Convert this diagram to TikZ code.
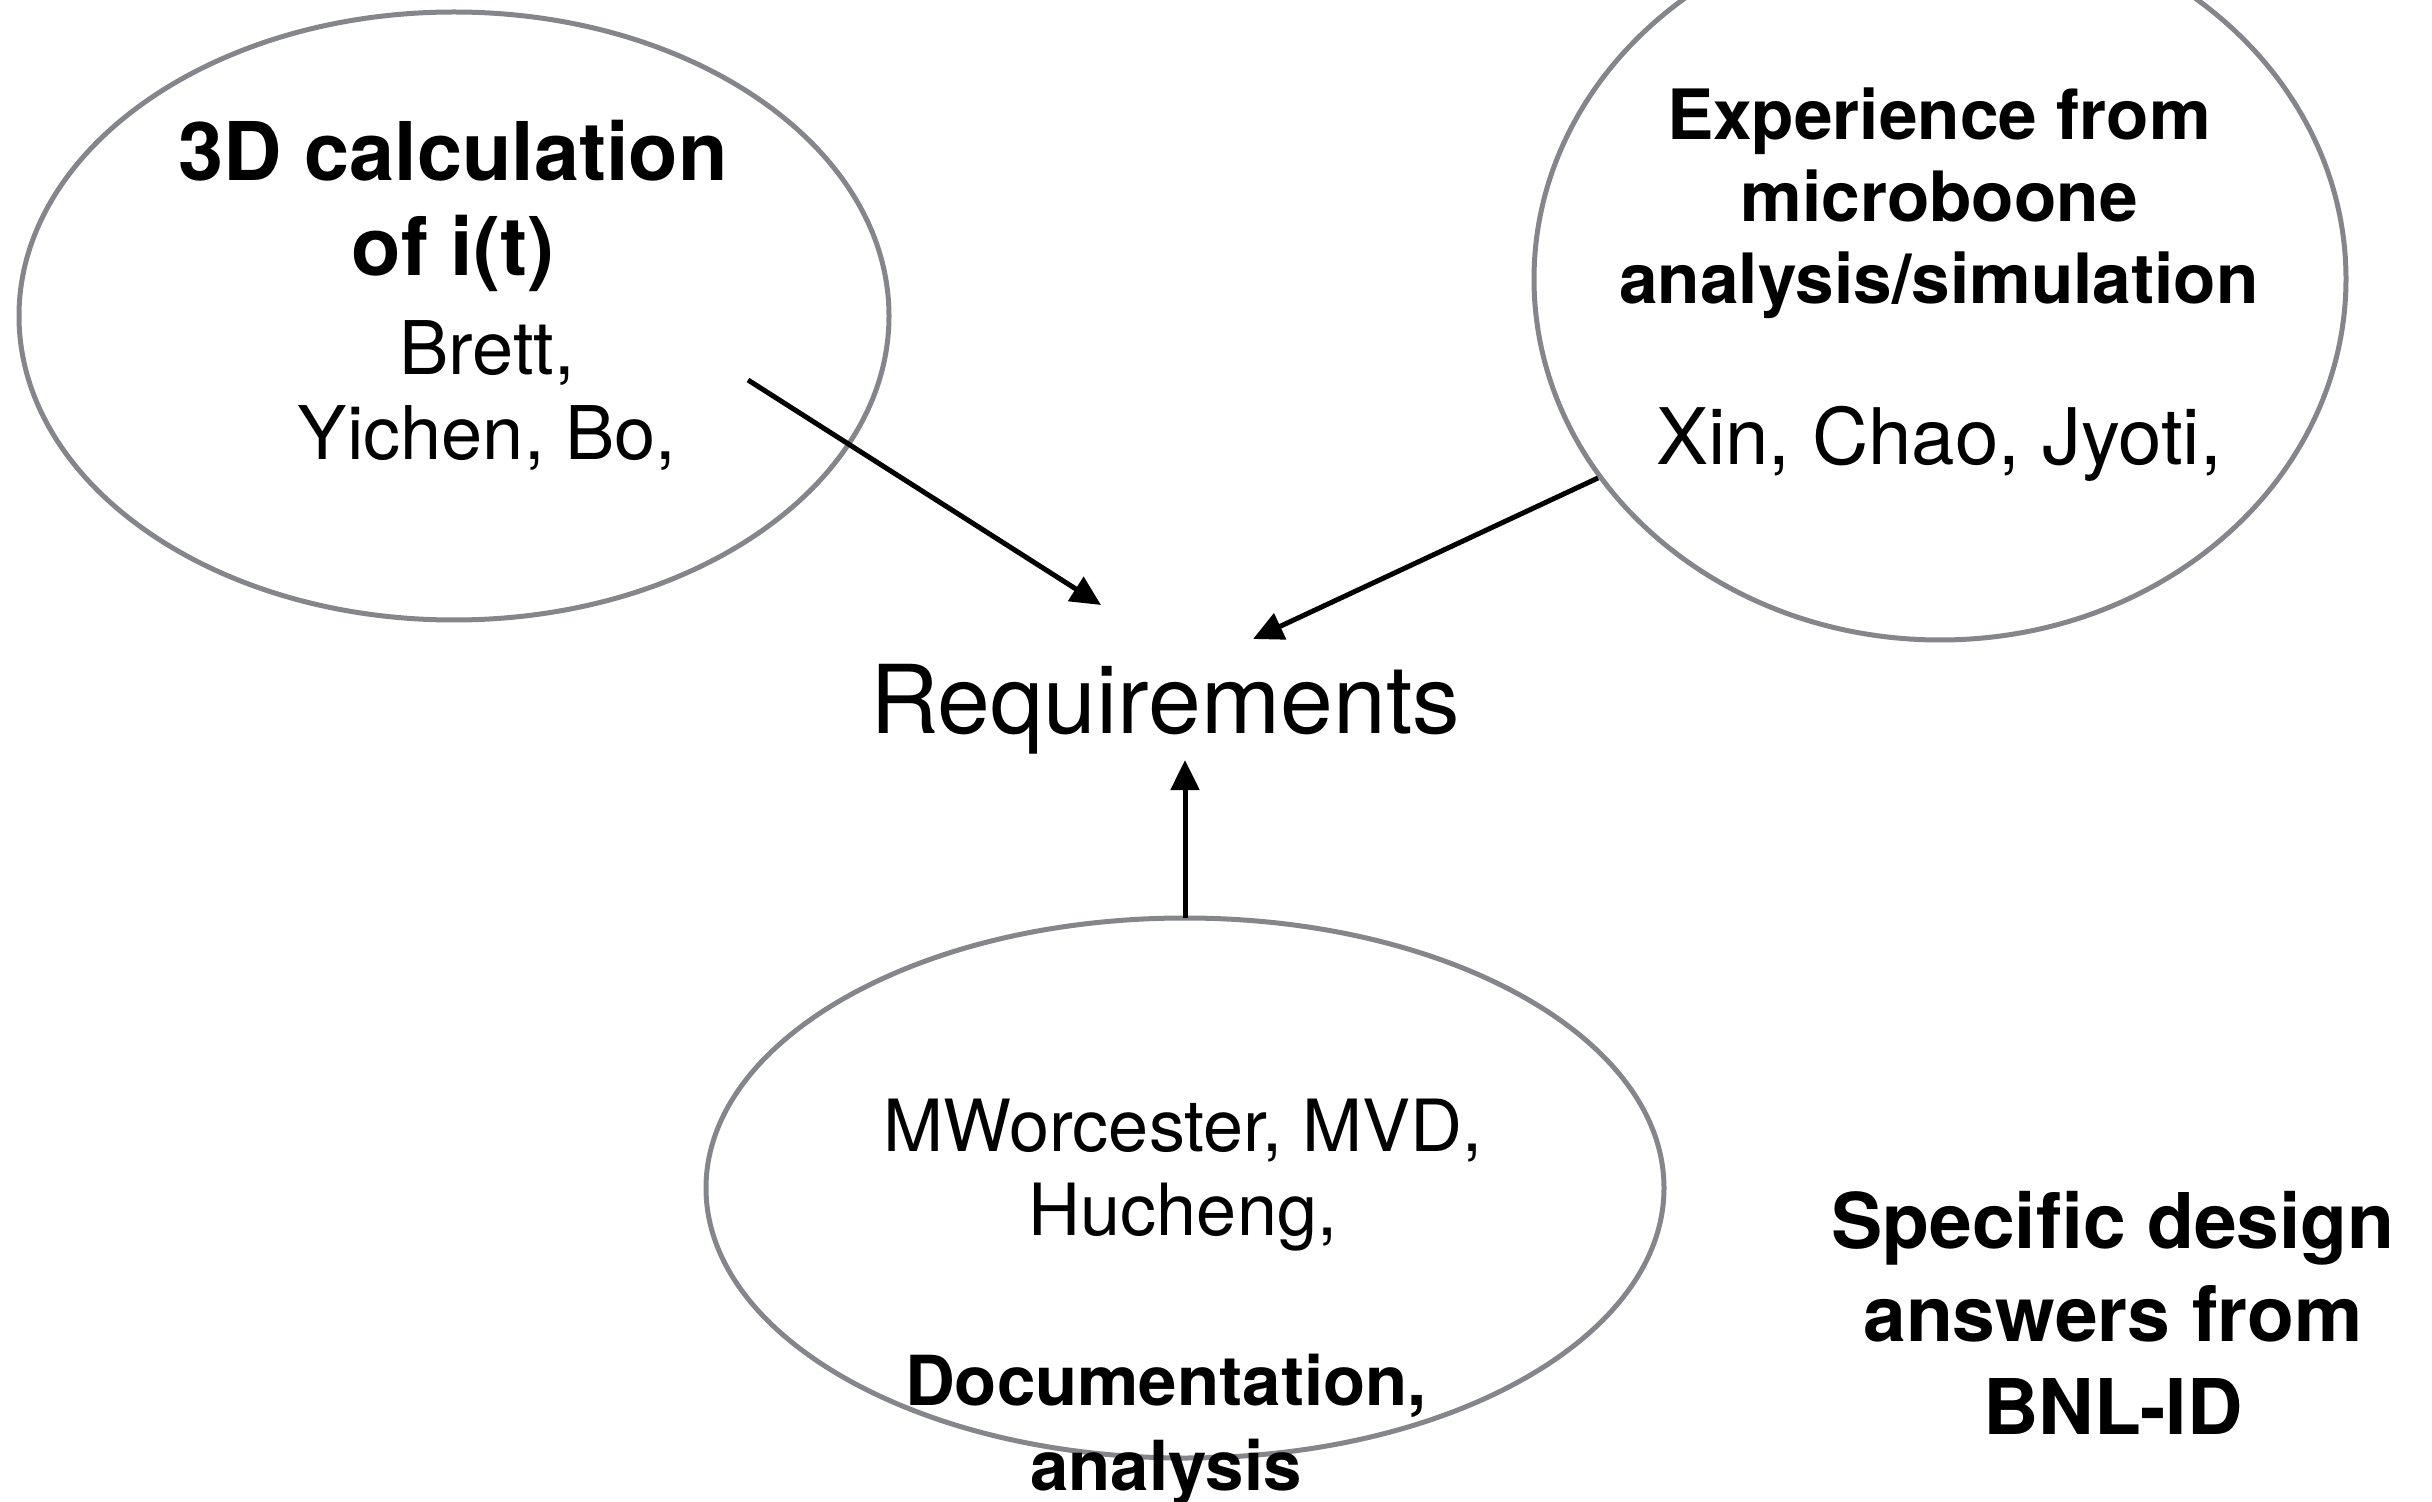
\documentclass[tikz,border=0pt]{standalone}
\usepackage{fontspec}
\setmainfont{TeX Gyre Heros}
\usetikzlibrary{shapes.geometric,arrows.meta}
\definecolor{ringgray}{RGB}{132,134,140}
\tikzset{
  ring/.style={ellipse, draw=ringgray, line width=2.5pt, inner sep=0pt, outer sep=0pt},
  txt/.style={align=center, inner sep=0pt, text=black},
  link/.style={draw=black, line width=2.5pt, -{Triangle[length=15pt,width=14pt]}}
}
\newcommand{\fs}[2]{\fontsize{#1}{#2}\selectfont}
\begin{document}
\begin{tikzpicture}[x=0.5pt,y=-0.5pt]
\useasboundingbox (0,0) rectangle (2432,1502);
% ellipses
\node[ring, minimum width=435pt, minimum height=304pt] (e1) at (454,316) {};
\node[ring, minimum width=406pt, minimum height=361pt] (e2) at (1940,279) {};
\node[ring, minimum width=479pt, minimum height=270pt] (e3) at (1185,1188) {};
% texts
\node[txt, font=\bfseries\fs{40.5}{47.5}] (t1) at (453,206) {3D calculation\\of i(t)};
\node[txt, font=\fs{37}{42.5}] (n1) at (487,395) {Brett,\\Yichen, Bo,};
\node[txt, font=\bfseries\fs{34.7}{41}] (t2) at (1939,203) {Experience from\\microboone\\analysis/simulation};
\node[txt, font=\fs{39}{44}] (n2) at (1939,444) {Xin, Chao, Jyoti,};
\node[txt, font=\fs{47.5}{52}] (req) at (1165,709) {Requirements};
\node[txt, font=\fs{36}{42}] (n3) at (1183,1175) {MWorcester, MVD,\\Hucheng,};
\node[txt, font=\bfseries\fs{34.5}{42.5}] (t3) at (1166,1430) {Documentation,\\analysis};
\node[txt, font=\bfseries\fs{38.4}{46.5}] (spec) at (2113,1313) {Specific design\\answers from\\BNL-ID};
% connector end points
\coordinate (s1) at (748,380);
\coordinate (h1) at (1101,605);
\coordinate (s2) at (1598,478);
\coordinate (h2) at (1253,639);
\coordinate (h3) at (1185,760);
% connectors
\draw[link] (s1) -- (h1);
\draw[link] (s2) -- (h2);
\draw[link] (e3.north) -- (h3);
\end{tikzpicture}
\end{document}
